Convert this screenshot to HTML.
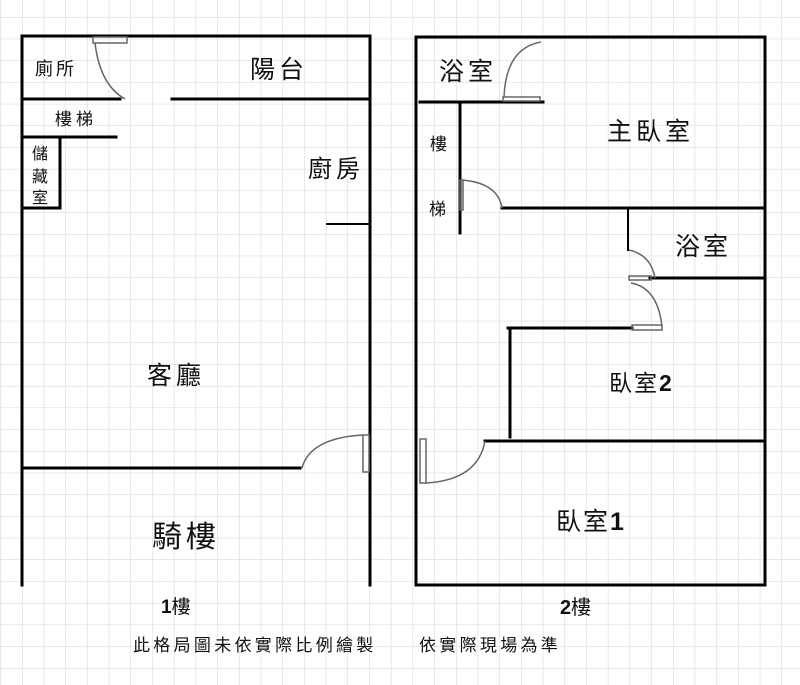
<!DOCTYPE html>
<html><head><meta charset="utf-8"><style>
body{margin:0;background:#fff}
svg{display:block}
text{font-family:"Liberation Sans","Noto Sans CJK TC",sans-serif;fill:#111}
</style></head><body>
<svg width="800" height="685" viewBox="0 0 800 685" xmlns="http://www.w3.org/2000/svg">
<defs>
<pattern id="g" x="0.3" y="-4.7" width="21.7" height="21.7" patternUnits="userSpaceOnUse">
<path d="M0 0V21.7M0 0H21.7" stroke="#d3d3d3" stroke-width="1" fill="none"/>
</pattern>
</defs>
<rect width="800" height="685" fill="#fff"/>
<rect width="800" height="685" fill="url(#g)"/>
<g stroke="#000" stroke-width="3" fill="none" stroke-linecap="square">
<path d="M22 585V36H370V585"/>
<path d="M22 99H120M172 99H370"/>
<path d="M22 137H116"/>
<path d="M60 137V208H22"/>
<path d="M327 224H370" stroke-width="2"/>
<path d="M22 468H300"/>
<path d="M416 585V37H765V585H416"/>
<path d="M420 102H543"/>
<path d="M460 102V233"/>
<path d="M502 208H765"/>
<path d="M628 208V250" stroke-width="2"/>
<path d="M650 278H765"/>
<path d="M508 328H632"/>
<path d="M510 328V437"/>
<path d="M485 441H765"/>
</g>
<g stroke="#666" stroke-width="1.5" fill="none">
<rect x="93" y="37" width="34" height="6"/>
<path d="M95 43Q100 85 125 99"/>
<rect x="363" y="435" width="6" height="37"/>
<path d="M302 468Q310 438 363 435"/>
<rect x="503" y="97" width="37" height="4"/>
<path d="M504 97Q506 48 541 42"/>
<rect x="460" y="180" width="3" height="30"/>
<path d="M462 180Q498 183 502 208"/>
<path d="M629 250Q651 255 655 278"/>
<rect x="629" y="276" width="22" height="4"/>
<path d="M631 283Q658 288 662 327"/>
<rect x="632" y="325" width="30" height="5"/>
<rect x="420" y="439" width="6" height="44"/>
<path d="M426 483Q478 480 485 441"/>
</g>
<text x="35" y="75" font-size="18" letter-spacing="3">廁所</text>
<text x="250" y="78" font-size="25" letter-spacing="4">陽台</text>
<text x="55" y="125" font-size="17" letter-spacing="4">樓梯</text>
<text x="32" y="159" font-size="16">儲</text>
<text x="32" y="182" font-size="16">藏</text>
<text x="32" y="203" font-size="16">室</text>
<text x="308" y="177" font-size="24" letter-spacing="4">廚房</text>
<text x="147" y="384" font-size="25" letter-spacing="4">客廳</text>
<text x="152" y="547" font-size="30" letter-spacing="4">騎樓</text>
<text x="439" y="80" font-size="25" letter-spacing="4">浴室</text>
<text x="607" y="140" font-size="25" letter-spacing="4">主臥室</text>
<text x="430" y="150" font-size="17">樓</text>
<text x="429" y="215" font-size="17">梯</text>
<text x="675" y="255" font-size="25" letter-spacing="3">浴室</text>
<text x="609" y="391" font-size="23" letter-spacing="2">臥室<tspan font-weight="bold">2</tspan></text>
<text x="556" y="530" font-size="25" letter-spacing="2">臥室<tspan font-weight="bold">1</tspan></text>
<text x="161" y="613" font-size="19"><tspan font-weight="bold">1</tspan>樓</text>
<text x="560" y="614" font-size="20"><tspan font-weight="bold">2</tspan>樓</text>
<text x="133" y="651" font-size="17" letter-spacing="3.3">此格局圖未依實際比例繪製</text>
<text x="419" y="651" font-size="17" letter-spacing="3.3">依實際現場為準</text>
</svg>
</body></html>
